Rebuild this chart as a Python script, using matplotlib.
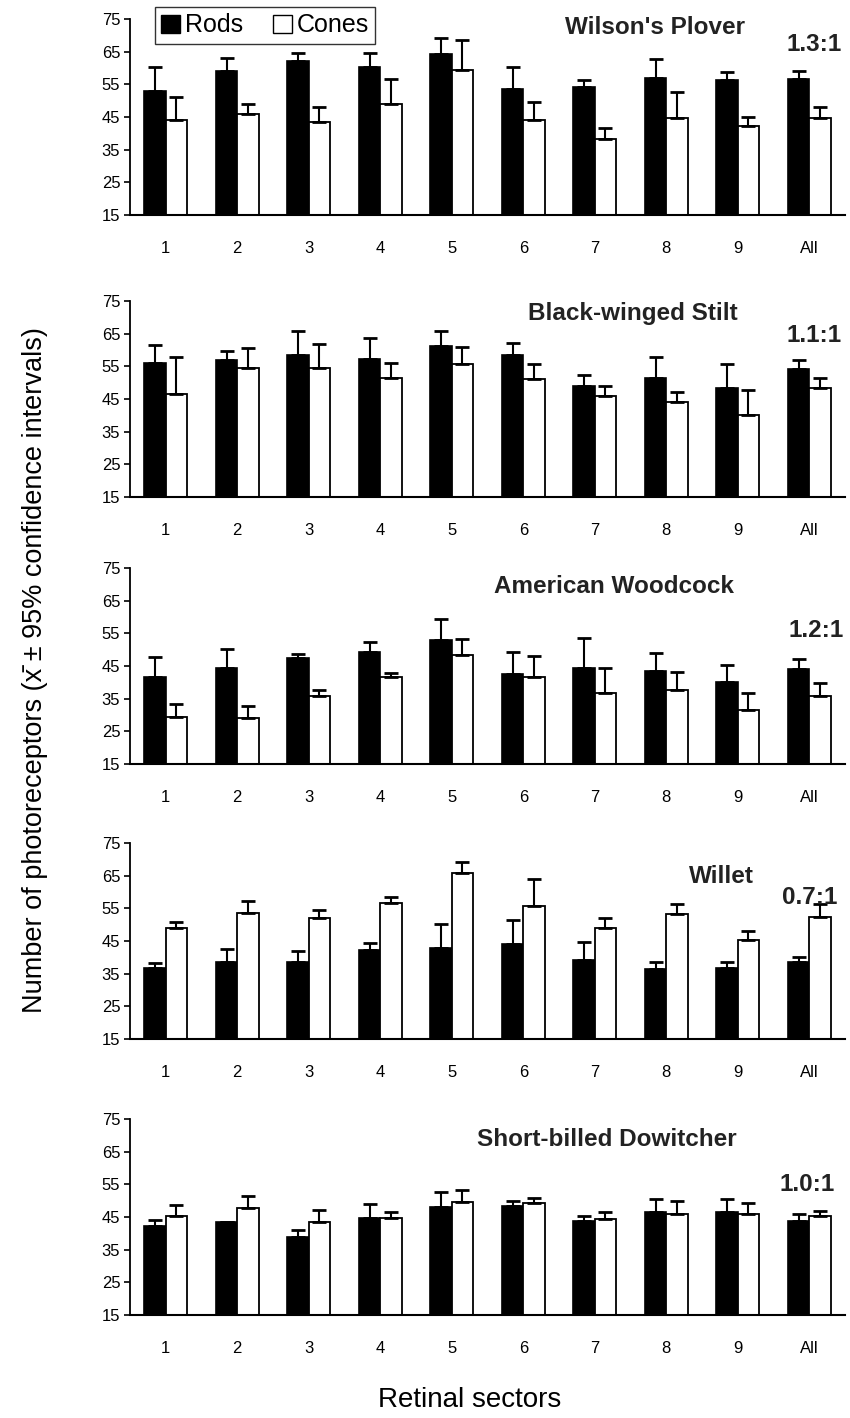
import numpy as np
import matplotlib
matplotlib.use("Agg")
import matplotlib.pyplot as plt
from matplotlib.patches import Patch

plt.rcParams['font.family'] = ['Liberation Sans', 'DejaVu Sans']

### Data
sectors = ["1", "2", "3", "4", "5", "6", "7", "8", "9", "All"]
species = ["Wilson's Plover", "Black-winged Stilt", "American Woodcock",
           "Willet", "Short-billed Dowitcher"]
ratios = ["1.3:1", "1.1:1", "1.2:1", "0.7:1", "1.0:1"]

# means
plover_rods = [53.1, 59.0, 62.1, 60.3, 64.3, 53.6, 54.3, 57.0, 56.4, 56.6]
plover_cones = [44.2, 46.0, 43.6, 48.9, 59.4, 44.2, 38.4, 44.8, 42.1, 44.8]
stilt_rods = [56.0, 56.9, 58.6, 57.2, 61.3, 58.4, 48.9, 51.4, 48.3, 54.3]
stilt_cones = [46.5, 54.5, 54.5, 51.4, 55.8, 51.2, 45.8, 44.1, 40.0, 48.3]
woodcock_rods = [41.7, 44.5, 47.4, 49.2, 53.0, 42.4, 44.5, 43.5, 40.2, 44.0]
woodcock_cones = [29.5, 29.2, 35.8, 41.7, 48.4, 41.5, 36.6, 37.8, 31.5, 35.8]
willet_rods = [36.8, 38.7, 38.7, 42.2, 42.8, 44.0, 39.2, 36.4, 36.8, 38.7]
willet_cones = [48.9, 53.5, 51.9, 56.5, 65.7, 55.7, 49.1, 53.2, 45.3, 52.4]
dowitcher_rods = [42.2, 43.4, 38.9, 44.8, 48.1, 48.3, 43.7, 46.6, 46.4, 43.7]
dowitcher_cones = [45.3, 47.8, 43.4, 44.7, 49.7, 49.2, 44.3, 46.0, 46.0, 45.3]

# upper ends of the 95% confidence intervals
plover_rods_hi = [60.3, 63.0, 64.5, 64.6, 69.2, 60.3, 56.2, 62.7, 58.9, 59.1]
plover_cones_hi = [51.0, 49.1, 48.0, 56.7, 68.6, 49.5, 41.7, 52.6, 45.0, 48.0]
stilt_rods_hi = [61.5, 59.7, 65.7, 63.8, 65.7, 62.0, 52.2, 57.9, 55.8, 56.9]
stilt_cones_hi = [57.9, 60.5, 61.8, 56.0, 61.0, 55.8, 48.9, 47.2, 47.9, 51.4]
woodcock_rods_hi = [47.7, 50.1, 48.6, 52.2, 59.3, 49.4, 53.7, 48.9, 45.3, 47.0]
woodcock_cones_hi = [33.5, 32.7, 37.6, 43.0, 53.2, 48.1, 44.3, 43.3, 36.8, 39.9]
willet_rods_hi = [38.2, 42.6, 41.9, 44.3, 50.2, 51.4, 44.8, 38.5, 38.7, 40.0]
willet_cones_hi = [50.7, 57.2, 54.5, 58.6, 69.3, 63.9, 52.1, 56.3, 48.1, 56.2]
dowitcher_rods_hi = [44.0, 43.6, 41.0, 49.0, 52.6, 49.9, 45.2, 50.5, 50.4, 45.8]
dowitcher_cones_hi = [48.7, 51.3, 47.1, 46.4, 53.4, 50.7, 46.4, 50.0, 49.4, 46.8]

rods = [plover_rods, stilt_rods, woodcock_rods, willet_rods, dowitcher_rods]
cones = [plover_cones, stilt_cones, woodcock_cones, willet_cones, dowitcher_cones]
rods_hi = [plover_rods_hi, stilt_rods_hi, woodcock_rods_hi, willet_rods_hi, dowitcher_rods_hi]
cones_hi = [plover_cones_hi, stilt_cones_hi, woodcock_cones_hi, willet_cones_hi, dowitcher_cones_hi]

### Layout (pixel positions of each panel in the 850x1418 figure)
W, H = 850, 1418
panel_top = [19, 301, 568, 843, 1119]
panel_h = 196
ax_left, ax_right = 130, 845
# where the species name and ratio sit, in data units (right edge x, y)
title_pos = [(8.1, 72.4), (8.0, 71.3), (7.95, 69.3), (8.22, 64.6), (7.98, 68.6)]
ratio_pos = [(9.45, 67.2), (9.45, 64.3), (9.48, 56.0), (9.4, 58.2), (9.35, 55.0)]

fig = plt.figure(figsize=(W / 100, H / 100), dpi=100)
x = np.arange(len(sectors))
bw = 0.3

for i in range(5):
    ax = fig.add_axes([ax_left / W, 1 - (panel_top[i] + panel_h) / H,
                       (ax_right - ax_left) / W, panel_h / H])
    r = np.array(rods[i]); c = np.array(cones[i])
    r_err = np.array(rods_hi[i]) - r
    c_err = np.array(cones_hi[i]) - c
    ax.bar(x - bw / 2, r, bw, color='black', edgecolor='black', linewidth=1.2,
           yerr=[np.zeros_like(r), r_err], capsize=5,
           error_kw=dict(ecolor='black', elinewidth=1.5, capthick=2))
    ax.bar(x + bw / 2, c, bw, color='white', edgecolor='black', linewidth=1.3,
           yerr=[np.zeros_like(c), c_err], capsize=5,
           error_kw=dict(ecolor='black', elinewidth=1.5, capthick=2))
    ax.set_xlim(-0.5, 9.5)
    ax.set_ylim(15, 75)
    ax.set_yticks(range(15, 76, 10))
    ax.set_xticks(x)
    ax.set_xticklabels(sectors)
    ax.tick_params(axis='x', length=0, pad=19, labelsize=12)
    ax.tick_params(axis='y', length=4, width=1.2, direction='out', pad=3, labelsize=12)
    for s in ['top', 'right']:
        ax.spines[s].set_visible(False)
    ax.spines['left'].set_linewidth(1.3)
    ax.spines['bottom'].set_linewidth(1.5)
    ax.text(title_pos[i][0], title_pos[i][1], species[i], ha='right', va='center',
            fontsize=17.5, fontweight='bold', color='#222222')
    ax.text(ratio_pos[i][0], ratio_pos[i][1], ratios[i], ha='right', va='center',
            fontsize=17.5, fontweight='bold', color='#222222')
    if i == 0:
        handles = [Patch(facecolor='black', edgecolor='black', label='Rods'),
                   Patch(facecolor='white', edgecolor='black', label='Cones')]
        leg = ax.legend(handles=handles, ncol=2, loc='upper left',
                        bbox_to_anchor=(0.035, 1.06), borderaxespad=0,
                        fontsize=18, frameon=True, fancybox=False,
                        handlelength=0.75, handleheight=0.75, handletextpad=0.2,
                        columnspacing=1.2, borderpad=0.25)
        leg.get_frame().set_edgecolor('black')
        leg.get_frame().set_linewidth(1.0)

fig.text(35 / W, 1 - 670 / H,
         "Number of photoreceptors (x\u0304 \u00b1 95% confidence intervals)",
         rotation=90, ha='center', va='center', fontsize=19.5)
fig.text(470 / W, 1 - 1400 / H, "Retinal sectors", ha='center', va='center',
         fontsize=20)

fig.savefig("out.png", dpi=100)
